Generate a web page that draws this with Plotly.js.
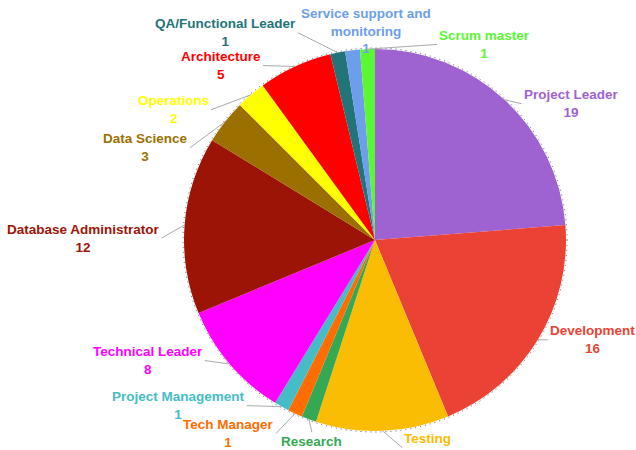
<!DOCTYPE html>
<html><head><meta charset="utf-8">
<script src="https://cdn.plot.ly/plotly-3.0.1.min.js"></script>
<style>html,body{margin:0;padding:0;background:#fff}#chart{width:636px;height:450px}</style>
</head><body><div id="chart"></div>
<script>
// ---- data ----
const categories = ["Project Leader","Development","Testing","Research","Tech Manager","Project Management","Technical Leader","Database Administrator","Data Science","Operations","Architecture","QA/Functional Leader","Service support and monitoring","Scrum master"];
const values = [19,16,9,1,1,1,8,12,3,2,5,1,1,1];
const labelLines = ["Project Leader","Development","Testing","Research","Tech Manager","Project Management","Technical Leader","Database Administrator","Data Science","Operations","Architecture","QA/Functional Leader","Service support and<br>monitoring","Scrum master"];
const colors = ["#9E63D1","#EA4335","#FBBC04","#34A853","#FF6D01","#46BDC6","#FF00FF","#9C1406","#9B7000","#FFFF00","#FF0000","#237479","#6D9EEB","#5BF733"];

// ---- layout / label placement (pixels) ----
const W = 636, H = 450, CX = 375, CY = 240, R = 191;
// [ax, ay, xanchor, yanchor, showarrow]
const labelPlacement = [
  [17, 4, "left", "middle", true],
  [10, 0, "left", "middle", true],
  [20, 17, "left", "middle", true],
  [3, 13, "center", "top", true],
  [-19, 20, "right", "middle", true],
  [-35, -1, "right", "middle", true],
  [-25, -3.5, "right", "middle", true],
  [-23, 13, "right", "middle", true],
  [-35, 26, "right", "middle", true],
  [-40, 15, "right", "middle", true],
  [-32, -1, "right", "middle", true],
  [-40, -20, "right", "middle", true],
  [13.4, -19.3, "center", "middle", false],
  [69.5, -4.7, "left", "middle", true]
];

const total = values.reduce((a,b)=>a+b,0);
let cum = 0;
const annotations = values.map((v,i)=>{
  const mid = (cum + v/2)/total*2*Math.PI;
  cum += v;
  const px = CX + R*Math.sin(mid), py = CY - R*Math.cos(mid);
  const p = labelPlacement[i];
  const a = {
    xref:"paper", yref:"paper", x:px/W, y:1-py/H,
    text: labelLines[i] + "<br>" + v,
    align:"center", xanchor:p[2], yanchor:p[3],
    font:{family:"Liberation Sans, Arial, sans-serif", size:13.5, color:colors[i], weight:"bold"},
    showarrow:p[4]
  };
  if(p[4]){
    Object.assign(a,{ax:p[0], ay:p[1], arrowhead:0, arrowwidth:1, arrowcolor:"#AAAAAA", standoff:0, startstandoff:0});
  } else {
    Object.assign(a,{xshift:p[0], yshift:-p[1]});
  }
  return a;
});

const trace = {
  type:"pie", labels:categories, values:values, sort:false, direction:"clockwise", rotation:0,
  marker:{colors:colors, line:{width:0}}, textinfo:"none", hoverinfo:"none",
  domain:{x:[(CX-R)/W,(CX+R)/W], y:[1-(CY+R)/H, 1-(CY-R)/H]}
};

const layout = {
  width:W, height:H, margin:{l:0,r:0,t:0,b:0}, showlegend:false,
  paper_bgcolor:"#FFFFFF", annotations:annotations,
  shapes:[{type:"circle", xref:"paper", yref:"paper", layer:"below",
    x0:(CX-R-1)/W, x1:(CX+R+1)/W, y0:1-(CY+R+1)/H, y1:1-(CY-R-1)/H,
    line:{color:"#555555", width:1, dash:"1px,4px"}}]
};
Plotly.newPlot("chart",[trace],layout,{staticPlot:true, displayModeBar:false});
</script></body></html>
